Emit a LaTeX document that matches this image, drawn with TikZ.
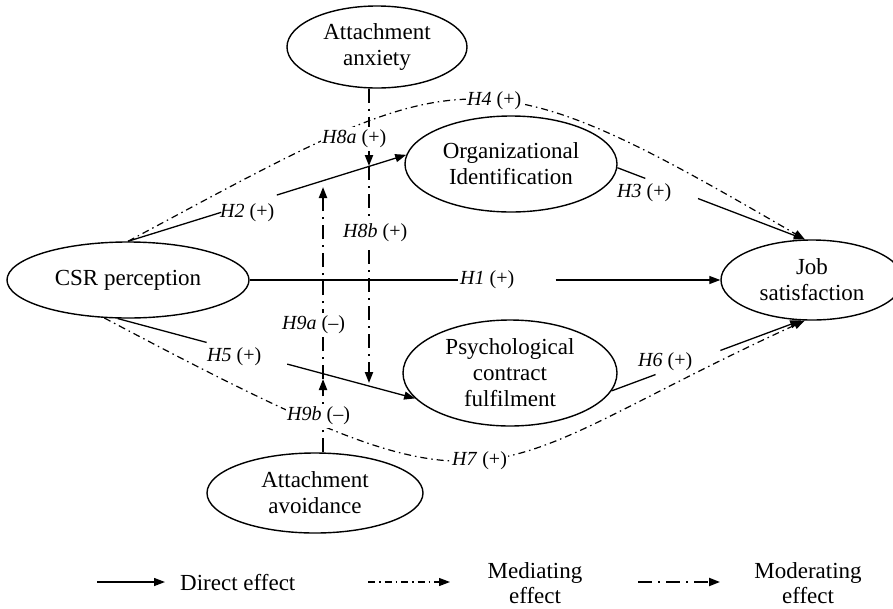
\documentclass[tikz,border=0pt]{standalone}
\usepackage{fontspec}
\setmainfont{Liberation Serif}
\usetikzlibrary{arrows.meta,calc,shapes.geometric}
\begin{document}
\begin{tikzpicture}[x=1pt,y=-1pt,
  ell/.style={draw, ellipse, line width=1.4pt, inner sep=0pt, align=center,
    font=\fontsize{23}{26}\selectfont},
  lbl/.style={font=\fontsize{20}{22}\selectfont, inner sep=1pt, anchor=west},
  lblw/.style={lbl, fill=white, inner ysep=3pt},
  direct/.style={line width=1.3pt},
  dtip/.style={-{Triangle[length=11pt,width=8pt]}},
  mediating/.style={line width=1.2pt, dash pattern=on 7pt off 4pt on 1.5pt off 4pt},
  moderating/.style={line width=2pt, dash pattern=on 14pt off 6pt on 2pt off 6pt},
  legtext/.style={font=\fontsize{23}{25}\selectfont, inner sep=0pt, align=center}
]
\useasboundingbox (0,0) rectangle (893,608);

% nodes
\node[ell, minimum width=180pt, minimum height=82pt] (anx) at (377,47) {Attachment\\anxiety};
\node[ell, minimum width=212pt, minimum height=96pt] (org) at (511,164) {Organizational\\Identification};
\node[ell, minimum width=242pt, minimum height=76pt] (csr) at (128,280) {CSR perception};
\node[ell, minimum width=182pt, minimum height=80pt] (job) at (812,280) {Job\\satisfaction};
\node[ell, minimum width=214pt, minimum height=106pt] (psy) at (510,373) {Psychological\\contract\\fulfilment};
\node[ell, minimum width=216pt, minimum height=80pt] (avo) at (315,493) {Attachment\\avoidance};

% direct effects
\draw[direct] (csr.east) -- ($(csr.east)!0.443!(job.west)$);
\draw[direct,dtip] ($(csr.east)!0.65!(job.west)$) -- (job.west);
\draw[direct] (csr.north) -- ($(csr.north)!0.335!(org.175)$);
\draw[direct,dtip] ($(csr.north)!0.535!(org.175)$) -- (org.175);
\draw[direct] (org.-2) -- ($(org.-2)!0.149!(job.100)$);
\draw[direct,dtip] ($(org.-2)!0.43!(job.100)$) -- (job.100);
\draw[direct] (csr.255) -- ($(csr.255)!0.299!(psy.195)$);
\draw[direct,dtip] ($(csr.255)!0.57!(psy.195)$) -- (psy.195);
\draw[direct] (psy.-10) -- ($(psy.-10)!0.232!(job.255)$);
\draw[direct,dtip] ($(psy.-10)!0.574!(job.255)$) -- (job.255);

% mediating effects
\draw[mediating,dtip] (csr.north) .. controls (465,61) and (471,45) .. (job.100);
\draw[mediating,dtip] (csr.238) .. controls (516,536) and (461,478) .. (job.260);

% moderating effects
\coordinate (m2a) at (369,166);
\coordinate (m2b) at (323,187);
\coordinate (m5a) at (323,379);
\coordinate (m5b) at (369,383);
\draw[moderating,dtip] (anx.south -| m2a) -- (m2a);
\draw[moderating,dtip] (m2a) -- (m5b);
\draw[moderating,dtip] (avo.north -| m5a) -- (m5a);
\draw[moderating,dtip] (m5a) -- (m2b);

% labels
\node[lbl] (h1) at (459,280) {\textit{H1} (+)};
\node[lbl] (h2) at (219,213) {\textit{H2} (+)};
\node[lbl] (h3) at (616,193) {\textit{H3} (+)};
\node[lbl] (h5) at (206,357) {\textit{H5} (+)};
\node[lbl] (h6) at (637,362) {\textit{H6} (+)};
\node[lblw] (h4) at (466,101) {\textit{H4} (+)\hspace{26pt}};
\node[lblw] (h7) at (451,461) {\textit{H7} (+)\hspace{28pt}};
\node[lblw] (h8a) at (321,139) {\textit{H8a} (+)};
\node[lblw] (h8b) at (342,233) {\textit{H8b} (+)};
\node[lblw] (h9a) at (281,325) {\textit{H9a} (--)};
\node[lblw] (h9b) at (286,416) {\textit{H9b} (--)};

% legend
\coordinate (l1a) at (97,582);
\coordinate (l1b) at (165,582);
\coordinate (l2a) at (368,582);
\coordinate (l2b) at (450,582);
\coordinate (l3a) at (638,582);
\coordinate (l3b) at (720,582);
\draw[direct,dtip] (l1a) -- (l1b);
\draw[mediating,dtip] (l2a) -- (l2b);
\draw[moderating,dtip] (l3a) -- (l3b);
\node[legtext, anchor=base west] (t1) at (180,590) {Direct effect};
\node[legtext] (t2) at (535,583) {Mediating\\effect};
\node[legtext] (t3) at (808,583) {Moderating\\effect};
\end{tikzpicture}
\end{document}
